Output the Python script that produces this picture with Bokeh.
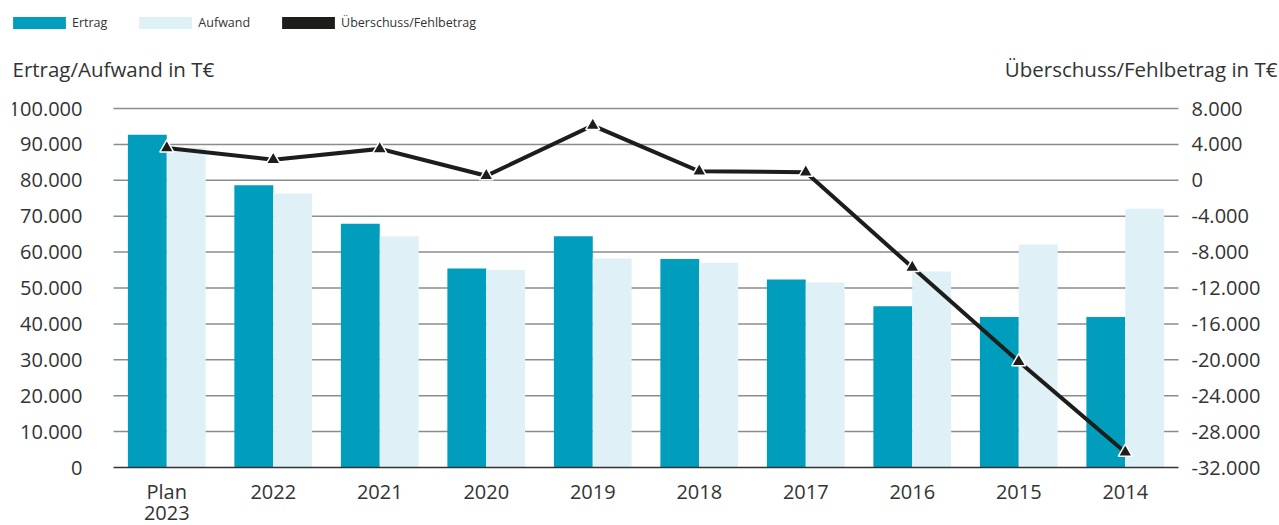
from bokeh.plotting import figure
from bokeh.models import (ColumnDataSource, FactorRange, Range1d, LinearAxis, FixedTicker,
                          CustomJSTickFormatter, Legend, LegendItem, Label)
from bokeh.transform import dodge
from bokeh.embed import file_html
from bokeh.resources import INLINE

# ---- data ----
categories = ["Plan\n2023", "2022", "2021", "2020", "2019", "2018", "2017", "2016", "2015", "2014"]
ertrag = [92700, 78600, 67900, 55400, 64400, 58100, 52400, 44900, 41900, 41900]
aufwand = [89100, 76300, 64400, 55000, 58200, 57000, 51500, 54600, 62100, 72100]
saldo = [3600, 2300, 3500, 500, 6100, 1000, 900, -9700, -20200, -30300]
left_ticks = [0, 10000, 20000, 30000, 40000, 50000, 60000, 70000, 80000, 90000, 100000]
right_ticks = [-32000, -28000, -24000, -20000, -16000, -12000, -8000, -4000, 0, 4000, 8000]
series_names = ["Ertrag", "Aufwand", "Überschuss/Fehlbetrag"]
left_title = "Ertrag/Aufwand in T€"
right_title = "Überschuss/Fehlbetrag in T€"

C_ERTRAG = "#009dbd"
C_AUFWAND = "#dff0f7"
C_LINE = "#1d1d1b"
C_TEXT = "#333333"
C_GRID = "#8c8c8c"
FONT = "Open Sans"

# ---- layout constants (pixels) ----
W, H = 1279, 525
BORDER_L = 12                       # canvas margin left of the drawing area
AREA_L, AREA_R = 113, 1178          # where the category band starts / ends
AREA_T, AREA_B = 108, 467           # where the value axes' top / bottom ticks sit
n = len(categories)
unit = (AREA_R - AREA_L) / n
pad = (AREA_L - BORDER_L) / unit
ppx_l = (left_ticks[-1] - left_ticks[0]) / (AREA_B - AREA_T)
ppx_r = (right_ticks[-1] - right_ticks[0]) / (AREA_B - AREA_T)

src = ColumnDataSource(dict(cat=categories, ertrag=ertrag, aufwand=aufwand, saldo=saldo))

p = figure(x_range=FactorRange(factors=categories, range_padding=pad, range_padding_units="absolute"),
           y_range=Range1d(left_ticks[0] - (H - AREA_B) * ppx_l, left_ticks[-1] + AREA_T * ppx_l),
           width=W, height=H,
           min_border_left=BORDER_L, min_border_right=0, min_border_top=0, min_border_bottom=0,
           output_backend="svg", toolbar_location=None)
p.extra_y_ranges = {"right": Range1d(right_ticks[0] - (H - AREA_B) * ppx_r,
                                     right_ticks[-1] + AREA_T * ppx_r)}
p.outline_line_color = None
p.background_fill_color = "white"
p.border_fill_color = "white"
p.xgrid.grid_line_color = None
p.ygrid.grid_line_color = None

fmt = CustomJSTickFormatter(code="""
const s = Math.abs(tick).toFixed(0).replace(/\\B(?=(\\d{3})+(?!\\d))/g, ".");
return (tick < 0 ? "-" : "") + s;
""")

# horizontal grid lines across the category band, dark base line at 0
grid_src = ColumnDataSource(dict(y=left_ticks[1:], x0=[0] * (len(left_ticks) - 1),
                                 x1=[n] * (len(left_ticks) - 1)))
p.segment(x0="x0", x1="x1", y0="y", y1="y", source=grid_src, line_color=C_GRID, line_width=1.5)

r_e = p.vbar(x=dodge("cat", -0.1825, range=p.x_range), top="ertrag", width=0.365, source=src,
             fill_color=C_ERTRAG, line_color=None)
r_a = p.vbar(x=dodge("cat", 0.1825, range=p.x_range), top="aufwand", width=0.365, source=src,
             fill_color=C_AUFWAND, line_color=None)
p.segment(x0=[0], x1=[n], y0=[left_ticks[0]], y1=[left_ticks[0]], line_color=C_TEXT, line_width=1.5)
p.line(x="cat", y="saldo", source=src, y_range_name="right", line_width=4,
       line_color=C_LINE, line_join="miter")
p.scatter(x="cat", y="saldo", source=src, y_range_name="right", marker="triangle", size=14,
          fill_color=C_LINE, line_color="white", line_width=1.5)
# zero-height bar, only used as the legend swatch of the line series
r_s = p.vbar(x=[categories[0]], top=[0], width=0.1, fill_color=C_LINE, line_color=None)

# left axis
ya = p.yaxis[0]
ya.fixed_location = 0
ya.ticker = FixedTicker(ticks=left_ticks)
ya.formatter = fmt
ya.axis_line_color = None
ya.major_tick_line_color = None
ya.minor_tick_line_color = None
ya.major_label_standoff = 25
ya.major_label_text_font = FONT
ya.major_label_text_font_size = "20px"
ya.major_label_text_color = C_TEXT

# right axis
ra = LinearAxis(y_range_name="right", ticker=FixedTicker(ticks=right_ticks), formatter=fmt,
                fixed_location=n)
ra.axis_line_color = None
ra.major_tick_line_color = None
ra.minor_tick_line_color = None
ra.major_label_standoff = 7
ra.major_label_text_font = FONT
ra.major_label_text_font_size = "20px"
ra.major_label_text_color = C_TEXT
p.add_layout(ra, "right")

# bottom axis
xa = p.xaxis[0]
xa.fixed_location = left_ticks[0]
xa.axis_line_color = None
xa.major_tick_line_color = None
xa.minor_tick_line_color = None
xa.major_label_standoff = 4
xa.major_label_text_font = FONT
xa.major_label_text_font_size = "20px"
xa.major_label_text_color = C_TEXT
xa.major_label_text_line_height = 0.8

# axis titles
p.add_layout(Label(x=0, y=H - 68, x_units="screen", y_units="screen", text=left_title,
                   text_align="left", text_baseline="middle", text_font=FONT,
                   text_font_size="20.5px", text_color=C_TEXT))
p.add_layout(Label(x=W - BORDER_L - 2, y=H - 68, x_units="screen", y_units="screen", text=right_title,
                   text_align="right", text_baseline="middle", text_font=FONT,
                   text_font_size="20.5px", text_color=C_TEXT))

# series legend
legend = Legend(items=[LegendItem(label=series_names[0], renderers=[r_e]),
                       LegendItem(label=series_names[1], renderers=[r_a]),
                       LegendItem(label=series_names[2], renderers=[r_s])],
                location=(-6, H - 31), orientation="horizontal",
                glyph_width=66, glyph_height=15, label_height=15, label_standoff=0,
                spacing=25, padding=0, margin=0,
                border_line_alpha=0, background_fill_alpha=0,
                label_text_font=FONT, label_text_font_size="12.5px", label_text_color=C_TEXT)
p.add_layout(legend)

open("out.html", "w").write(file_html(p, INLINE))
